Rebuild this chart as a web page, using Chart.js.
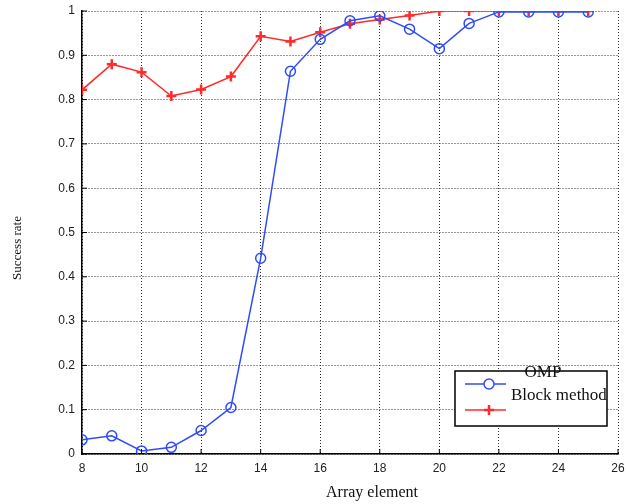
<!DOCTYPE html>
<html>
<head>
<meta charset="utf-8">
<script src="https://cdn.jsdelivr.net/npm/chart.js@4/dist/chart.umd.min.js"></script>
<style>
  html, body { margin: 0; padding: 0; background: #fff; }
  #wrap { width: 626px; height: 504px; }
</style>
</head>
<body>
<div id="wrap"><canvas id="chart"></canvas></div>
<script>
// array element counts on the x axis
const elements = [8, 9, 10, 11, 12, 13, 14, 15, 16, 17, 18, 19, 20, 21, 22, 23, 24, 25];
// success rate of OMP
const ompRate = [0.032, 0.041, 0.007, 0.015, 0.053, 0.105, 0.442, 0.864, 0.936, 0.978, 0.989, 0.959, 0.915, 0.972, 0.998, 0.998, 0.998, 0.998];
// success rate of the block method
const blockRate = [0.822, 0.880, 0.862, 0.808, 0.823, 0.852, 0.943, 0.931, 0.952, 0.971, 0.981, 0.990, 1.0, 1.0, 1.0, 1.0, 1.0, 1.0];
const seriesNames = ['OMP', 'Block method'];
const xTitle = 'Array element';
const yTitle = 'Success rate';

const BLUE = '#2f4cf6';
const RED = '#ff2a2a';

function toPoints(values) {
  return elements.map((x, i) => ({ x: x, y: values[i] }));
}

// titles, inward ticks and the odd matlab-like legend box
const decorations = {
  id: 'decorations',
  afterDraw(chart) {
    const ctx = chart.ctx;
    const area = chart.chartArea;
    const xs = chart.scales.x;
    const ys = chart.scales.y;

    ctx.save();
    // inward ticks along the left and bottom axes
    ctx.strokeStyle = '#000';
    ctx.lineWidth = 1;
    xs.ticks.forEach(t => {
      const px = xs.getPixelForValue(t.value);
      ctx.beginPath();
      ctx.moveTo(px, area.bottom);
      ctx.lineTo(px, area.bottom - 5);
      ctx.stroke();
    });
    ys.ticks.forEach(t => {
      const py = ys.getPixelForValue(t.value);
      ctx.beginPath();
      ctx.moveTo(area.left, py);
      ctx.lineTo(area.left + 5, py);
      ctx.stroke();
    });

    // axis titles
    ctx.fillStyle = '#111';
    ctx.font = '16px "Liberation Serif", serif';
    ctx.textAlign = 'center';
    ctx.textBaseline = 'middle';
    ctx.fillText(xTitle, 372, 493);
    ctx.save();
    ctx.translate(18, 248);
    ctx.rotate(-Math.PI / 2);
    ctx.font = '13px "Liberation Serif", serif';
    ctx.fillText(yTitle, 0, 0);
    ctx.restore();

    // legend box
    const bx = 455, by = 371, bw = 152, bh = 55;
    ctx.fillStyle = '#fff';
    ctx.fillRect(bx, by, bw, bh);
    ctx.strokeStyle = '#000';
    ctx.lineWidth = 1.5;
    ctx.strokeRect(bx, by, bw, bh);

    const samples = [
      { y: 384, color: BLUE, style: 'circle', radius: 5 },
      { y: 410, color: RED, style: 'cross', radius: 5 }
    ];
    samples.forEach(s => {
      ctx.strokeStyle = s.color;
      ctx.lineWidth = 1.5;
      ctx.beginPath();
      ctx.moveTo(465, s.y);
      ctx.lineTo(506, s.y);
      ctx.stroke();
      ctx.fillStyle = '#fff';
      ctx.lineWidth = s.style === 'cross' ? 2.5 : 1.5;
      Chart.helpers.drawPoint(ctx, { pointStyle: s.style, radius: s.radius, borderWidth: ctx.lineWidth, rotation: 0 }, 489, s.y);
    });

    ctx.fillStyle = '#111';
    ctx.font = '17px "Liberation Serif", serif';
    ctx.textAlign = 'center';
    ctx.fillText(seriesNames[0], 543, 373);
    ctx.textAlign = 'left';
    ctx.fillText(seriesNames[1], 511, 396);
    ctx.restore();
  }
};

const tickFont = { family: '"Liberation Sans", Arial, sans-serif', size: 12 };

new Chart(document.getElementById('chart'), {
  type: 'line',
  data: {
    datasets: [
      {
        label: seriesNames[0],
        data: toPoints(ompRate),
        borderColor: BLUE,
        backgroundColor: 'rgba(255,255,255,0)',
        borderWidth: 1.5,
        pointStyle: 'circle',
        pointRadius: 5,
        pointBorderWidth: 1.5,
        pointBorderColor: BLUE,
        tension: 0
      },
      {
        label: seriesNames[1],
        data: toPoints(blockRate),
        borderColor: RED,
        backgroundColor: RED,
        borderWidth: 1.5,
        pointStyle: 'cross',
        pointRadius: 5,
        pointBorderWidth: 2.5,
        pointBorderColor: RED,
        tension: 0
      }
    ]
  },
  options: {
    responsive: true,
    maintainAspectRatio: false,
    animation: false,
    layout: { padding: { top: 11, right: 8, left: 0, bottom: 0 } },
    plugins: {
      legend: { display: false },
      tooltip: { enabled: false }
    },
    scales: {
      x: {
        type: 'linear',
        min: 8,
        max: 26,
        ticks: { stepSize: 2, color: '#222', font: tickFont, padding: 7 },
        grid: { color: '#333', lineWidth: 1, drawTicks: false },
        border: { color: '#000', width: 1.5, dash: [1, 2] },
        afterFit(scale) {
          scale.height = 50;
          scale.paddingLeft = 0;
          scale.paddingRight = 0;
        }
      },
      y: {
        min: 0,
        max: 1,
        ticks: {
          stepSize: 0.1,
          color: '#222',
          font: tickFont,
          padding: 7,
          callback: v => String(Math.round(v * 10) / 10)
        },
        grid: { color: '#333', lineWidth: 1, drawTicks: false },
        border: { color: '#000', width: 1.5, dash: [1, 2] },
        afterFit(scale) {
          scale.width = 82;
          scale.paddingTop = 0;
          scale.paddingBottom = 0;
        }
      }
    }
  },
  plugins: [decorations]
});
</script>
</body>
</html>
